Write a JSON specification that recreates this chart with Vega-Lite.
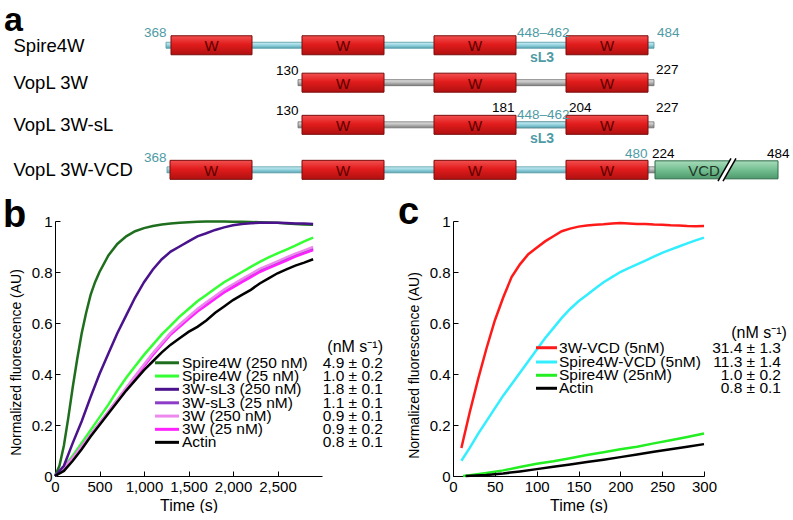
{
  "$schema": "https://vega.github.io/schema/vega-lite/v6.json",
  "padding": {"left": 3, "top": 0, "right": 0, "bottom": 0},
  "bounds": "flush",
  "spacing": 31,
  "config": {
    "view": {"stroke": null},
    "font": "Liberation Sans",
    "axis": {"grid": false, "domainColor": "black", "domainWidth": 1, "tickColor": "black", "tickSize": -5, "labelPadding": 8, "labelFontSize": 15, "labelColor": "black", "labelFont": "Liberation Sans", "titleFont": "Liberation Sans", "titleFontWeight": "normal", "titleColor": "black", "labelFlush": false},
    "axisX": {"titleFontSize": 16, "titlePadding": 3},
    "axisY": {"titleFontSize": 14, "titlePadding": 8}
  },
  "datasets": {
    "dtubes": [
      {"k":"sp","x":166,"x2":654,"y":42.5},
      {"k":"vl","x":298,"x2":654,"y":82},
      {"k":"vl","x":298,"x2":654,"y":126.5},
      {"k":"sp","x":516,"x2":566,"y":126.5},
      {"k":"sp","x":167,"x2":649,"y":174},
      {"k":"vl","x":648,"x2":656,"y":174}
    ],
    "dboxes": [
      {"k":"W","x":171,"x2":252,"y":42.5},{"k":"W","x":302,"x2":384,"y":42.5},{"k":"W","x":434,"x2":516,"y":42.5},{"k":"W","x":566,"x2":648,"y":42.5},
      {"k":"W","x":302,"x2":384,"y":82},{"k":"W","x":434,"x2":516,"y":82},{"k":"W","x":566,"x2":648,"y":82},
      {"k":"W","x":302,"x2":384,"y":126.5},{"k":"W","x":434,"x2":516,"y":126.5},{"k":"W","x":566,"x2":648,"y":126.5},
      {"k":"W","x":170,"x2":252,"y":174},{"k":"W","x":302,"x2":384,"y":174},{"k":"W","x":434,"x2":516,"y":174},{"k":"W","x":566,"x2":648,"y":174},
      {"k":"VCD","x":655,"x2":778,"y":174}
    ],
    "dboxlab": [
      {"k":"W","x":211.5,"y":42.5,"text":"W"},{"k":"W","x":343,"y":42.5,"text":"W"},{"k":"W","x":475,"y":42.5,"text":"W"},{"k":"W","x":607,"y":42.5,"text":"W"},
      {"k":"W","x":343,"y":82,"text":"W"},{"k":"W","x":475,"y":82,"text":"W"},{"k":"W","x":607,"y":82,"text":"W"},
      {"k":"W","x":343,"y":126.5,"text":"W"},{"k":"W","x":475,"y":126.5,"text":"W"},{"k":"W","x":607,"y":126.5,"text":"W"},
      {"k":"W","x":211,"y":174,"text":"W"},{"k":"W","x":343,"y":174,"text":"W"},{"k":"W","x":475,"y":174,"text":"W"},{"k":"W","x":607,"y":174,"text":"W"},
      {"k":"VCD","x":704,"y":174,"text":"VCD"}
    ],
    "dnums": [
      {"k":"teal","x":144,"y":30,"text":"368"},{"k":"teal","x":517,"y":30,"text":"448–462"},{"k":"teal","x":657,"y":30,"text":"484"},
      {"k":"black","x":276,"y":70,"text":"130"},{"k":"black","x":656,"y":69,"text":"227"},
      {"k":"black","x":276,"y":112,"text":"130"},{"k":"black","x":492,"y":109,"text":"181"},{"k":"teal","x":517,"y":116,"text":"448–462"},{"k":"black","x":569,"y":109,"text":"204"},{"k":"black","x":656,"y":109,"text":"227"},
      {"k":"teal","x":144,"y":161,"text":"368"},{"k":"teal","x":625,"y":157,"text":"480"},{"k":"black","x":652,"y":157,"text":"224"},{"k":"black","x":767,"y":157,"text":"484"}
    ],
    "dsl3": [{"x":530,"y":56,"text":"sL3"},{"x":530,"y":141,"text":"sL3"}],
    "drows": [{"x":13.5,"y":43,"text":"Spire4W"},{"x":13.5,"y":82,"text":"VopL 3W"},{"x":13.5,"y":126.5,"text":"VopL 3W-sL"},{"x":13.5,"y":174,"text":"VopL 3W-VCD"}],
    "dbreak": [{"k":"fill","x":720.5,"y":186,"x2":733.5,"y2":162},{"k":"edge","x":718,"y":186,"x2":731,"y2":162},{"k":"edge","x":723,"y":186,"x2":736,"y2":162}],
    "dletA": [{"x":4,"y":27,"text":"a"}],
    "bcurves": [
      {"s":"Spire4W (250 nM)","t":0,"v":0},{"s":"Spire4W (250 nM)","t":50,"v":0.04},{"s":"Spire4W (250 nM)","t":100,"v":0.12},{"s":"Spire4W (250 nM)","t":150,"v":0.23},{"s":"Spire4W (250 nM)","t":200,"v":0.35},{"s":"Spire4W (250 nM)","t":250,"v":0.46},{"s":"Spire4W (250 nM)","t":300,"v":0.56},{"s":"Spire4W (250 nM)","t":350,"v":0.64},{"s":"Spire4W (250 nM)","t":400,"v":0.71},{"s":"Spire4W (250 nM)","t":450,"v":0.76},{"s":"Spire4W (250 nM)","t":500,"v":0.8},{"s":"Spire4W (250 nM)","t":600,"v":0.865},{"s":"Spire4W (250 nM)","t":700,"v":0.91},{"s":"Spire4W (250 nM)","t":800,"v":0.94},{"s":"Spire4W (250 nM)","t":900,"v":0.96},{"s":"Spire4W (250 nM)","t":1000,"v":0.972},{"s":"Spire4W (250 nM)","t":1100,"v":0.98},{"s":"Spire4W (250 nM)","t":1200,"v":0.986},{"s":"Spire4W (250 nM)","t":1300,"v":0.99},{"s":"Spire4W (250 nM)","t":1400,"v":0.993},{"s":"Spire4W (250 nM)","t":1500,"v":0.995},{"s":"Spire4W (250 nM)","t":1600,"v":0.997},{"s":"Spire4W (250 nM)","t":1700,"v":0.998},{"s":"Spire4W (250 nM)","t":1800,"v":0.998},{"s":"Spire4W (250 nM)","t":1900,"v":0.998},{"s":"Spire4W (250 nM)","t":2000,"v":0.997},{"s":"Spire4W (250 nM)","t":2100,"v":0.997},{"s":"Spire4W (250 nM)","t":2200,"v":0.996},{"s":"Spire4W (250 nM)","t":2300,"v":0.995},{"s":"Spire4W (250 nM)","t":2400,"v":0.994},{"s":"Spire4W (250 nM)","t":2500,"v":0.993},{"s":"Spire4W (250 nM)","t":2600,"v":0.99},{"s":"Spire4W (250 nM)","t":2700,"v":0.988},{"s":"Spire4W (250 nM)","t":2800,"v":0.986},{"s":"Spire4W (250 nM)","t":2900,"v":0.985},
      {"s":"Spire4W (25 nM)","t":0,"v":0},{"s":"Spire4W (25 nM)","t":100,"v":0.035},{"s":"Spire4W (25 nM)","t":200,"v":0.08},{"s":"Spire4W (25 nM)","t":300,"v":0.13},{"s":"Spire4W (25 nM)","t":400,"v":0.18},{"s":"Spire4W (25 nM)","t":500,"v":0.23},{"s":"Spire4W (25 nM)","t":600,"v":0.28},{"s":"Spire4W (25 nM)","t":700,"v":0.335},{"s":"Spire4W (25 nM)","t":800,"v":0.385},{"s":"Spire4W (25 nM)","t":900,"v":0.43},{"s":"Spire4W (25 nM)","t":1000,"v":0.475},{"s":"Spire4W (25 nM)","t":1100,"v":0.515},{"s":"Spire4W (25 nM)","t":1200,"v":0.555},{"s":"Spire4W (25 nM)","t":1300,"v":0.59},{"s":"Spire4W (25 nM)","t":1400,"v":0.625},{"s":"Spire4W (25 nM)","t":1500,"v":0.655},{"s":"Spire4W (25 nM)","t":1600,"v":0.685},{"s":"Spire4W (25 nM)","t":1700,"v":0.71},{"s":"Spire4W (25 nM)","t":1800,"v":0.735},{"s":"Spire4W (25 nM)","t":1900,"v":0.76},{"s":"Spire4W (25 nM)","t":2000,"v":0.78},{"s":"Spire4W (25 nM)","t":2100,"v":0.8},{"s":"Spire4W (25 nM)","t":2200,"v":0.82},{"s":"Spire4W (25 nM)","t":2300,"v":0.84},{"s":"Spire4W (25 nM)","t":2400,"v":0.857},{"s":"Spire4W (25 nM)","t":2500,"v":0.873},{"s":"Spire4W (25 nM)","t":2600,"v":0.888},{"s":"Spire4W (25 nM)","t":2700,"v":0.903},{"s":"Spire4W (25 nM)","t":2800,"v":0.92},{"s":"Spire4W (25 nM)","t":2900,"v":0.935},
      {"s":"3W-sL3 (25 nM)","t":0,"v":0},{"s":"3W-sL3 (25 nM)","t":100,"v":0.03},{"s":"3W-sL3 (25 nM)","t":200,"v":0.071},{"s":"3W-sL3 (25 nM)","t":300,"v":0.117},{"s":"3W-sL3 (25 nM)","t":400,"v":0.162},{"s":"3W-sL3 (25 nM)","t":500,"v":0.207},{"s":"3W-sL3 (25 nM)","t":600,"v":0.252},{"s":"3W-sL3 (25 nM)","t":700,"v":0.298},{"s":"3W-sL3 (25 nM)","t":800,"v":0.343},{"s":"3W-sL3 (25 nM)","t":900,"v":0.389},{"s":"3W-sL3 (25 nM)","t":1000,"v":0.434},{"s":"3W-sL3 (25 nM)","t":1100,"v":0.479},{"s":"3W-sL3 (25 nM)","t":1200,"v":0.519},{"s":"3W-sL3 (25 nM)","t":1300,"v":0.559},{"s":"3W-sL3 (25 nM)","t":1400,"v":0.59},{"s":"3W-sL3 (25 nM)","t":1500,"v":0.62},{"s":"3W-sL3 (25 nM)","t":1600,"v":0.65},{"s":"3W-sL3 (25 nM)","t":1700,"v":0.676},{"s":"3W-sL3 (25 nM)","t":1800,"v":0.7},{"s":"3W-sL3 (25 nM)","t":1900,"v":0.726},{"s":"3W-sL3 (25 nM)","t":2000,"v":0.746},{"s":"3W-sL3 (25 nM)","t":2100,"v":0.766},{"s":"3W-sL3 (25 nM)","t":2200,"v":0.786},{"s":"3W-sL3 (25 nM)","t":2300,"v":0.806},{"s":"3W-sL3 (25 nM)","t":2400,"v":0.821},{"s":"3W-sL3 (25 nM)","t":2500,"v":0.836},{"s":"3W-sL3 (25 nM)","t":2600,"v":0.851},{"s":"3W-sL3 (25 nM)","t":2700,"v":0.866},{"s":"3W-sL3 (25 nM)","t":2800,"v":0.879},{"s":"3W-sL3 (25 nM)","t":2900,"v":0.892},
      {"s":"3W (25 nM)","t":0,"v":0},{"s":"3W (25 nM)","t":100,"v":0.03},{"s":"3W (25 nM)","t":200,"v":0.07},{"s":"3W (25 nM)","t":300,"v":0.115},{"s":"3W (25 nM)","t":400,"v":0.16},{"s":"3W (25 nM)","t":500,"v":0.205},{"s":"3W (25 nM)","t":600,"v":0.25},{"s":"3W (25 nM)","t":700,"v":0.295},{"s":"3W (25 nM)","t":800,"v":0.34},{"s":"3W (25 nM)","t":900,"v":0.385},{"s":"3W (25 nM)","t":1000,"v":0.43},{"s":"3W (25 nM)","t":1100,"v":0.475},{"s":"3W (25 nM)","t":1200,"v":0.515},{"s":"3W (25 nM)","t":1300,"v":0.555},{"s":"3W (25 nM)","t":1400,"v":0.585},{"s":"3W (25 nM)","t":1500,"v":0.615},{"s":"3W (25 nM)","t":1600,"v":0.645},{"s":"3W (25 nM)","t":1700,"v":0.67},{"s":"3W (25 nM)","t":1800,"v":0.695},{"s":"3W (25 nM)","t":1900,"v":0.72},{"s":"3W (25 nM)","t":2000,"v":0.74},{"s":"3W (25 nM)","t":2100,"v":0.76},{"s":"3W (25 nM)","t":2200,"v":0.78},{"s":"3W (25 nM)","t":2300,"v":0.8},{"s":"3W (25 nM)","t":2400,"v":0.815},{"s":"3W (25 nM)","t":2500,"v":0.83},{"s":"3W (25 nM)","t":2600,"v":0.845},{"s":"3W (25 nM)","t":2700,"v":0.86},{"s":"3W (25 nM)","t":2800,"v":0.873},{"s":"3W (25 nM)","t":2900,"v":0.886},
      {"s":"3W (250 nM)","t":0,"v":0},{"s":"3W (250 nM)","t":100,"v":0.03},{"s":"3W (250 nM)","t":200,"v":0.072},{"s":"3W (250 nM)","t":300,"v":0.118},{"s":"3W (250 nM)","t":400,"v":0.163},{"s":"3W (250 nM)","t":500,"v":0.208},{"s":"3W (250 nM)","t":600,"v":0.254},{"s":"3W (250 nM)","t":700,"v":0.3},{"s":"3W (250 nM)","t":800,"v":0.346},{"s":"3W (250 nM)","t":900,"v":0.392},{"s":"3W (250 nM)","t":1000,"v":0.437},{"s":"3W (250 nM)","t":1100,"v":0.482},{"s":"3W (250 nM)","t":1200,"v":0.522},{"s":"3W (250 nM)","t":1300,"v":0.562},{"s":"3W (250 nM)","t":1400,"v":0.594},{"s":"3W (250 nM)","t":1500,"v":0.625},{"s":"3W (250 nM)","t":1600,"v":0.655},{"s":"3W (250 nM)","t":1700,"v":0.681},{"s":"3W (250 nM)","t":1800,"v":0.706},{"s":"3W (250 nM)","t":1900,"v":0.731},{"s":"3W (250 nM)","t":2000,"v":0.752},{"s":"3W (250 nM)","t":2100,"v":0.772},{"s":"3W (250 nM)","t":2200,"v":0.792},{"s":"3W (250 nM)","t":2300,"v":0.812},{"s":"3W (250 nM)","t":2400,"v":0.827},{"s":"3W (250 nM)","t":2500,"v":0.842},{"s":"3W (250 nM)","t":2600,"v":0.857},{"s":"3W (250 nM)","t":2700,"v":0.872},{"s":"3W (250 nM)","t":2800,"v":0.885},{"s":"3W (250 nM)","t":2900,"v":0.898},
      {"s":"3W-sL3 (250 nM)","t":0,"v":0},{"s":"3W-sL3 (250 nM)","t":100,"v":0.04},{"s":"3W-sL3 (250 nM)","t":200,"v":0.13},{"s":"3W-sL3 (250 nM)","t":300,"v":0.215},{"s":"3W-sL3 (250 nM)","t":400,"v":0.31},{"s":"3W-sL3 (250 nM)","t":500,"v":0.4},{"s":"3W-sL3 (250 nM)","t":600,"v":0.48},{"s":"3W-sL3 (250 nM)","t":700,"v":0.56},{"s":"3W-sL3 (250 nM)","t":800,"v":0.63},{"s":"3W-sL3 (250 nM)","t":900,"v":0.7},{"s":"3W-sL3 (250 nM)","t":1000,"v":0.76},{"s":"3W-sL3 (250 nM)","t":1100,"v":0.81},{"s":"3W-sL3 (250 nM)","t":1200,"v":0.85},{"s":"3W-sL3 (250 nM)","t":1300,"v":0.88},{"s":"3W-sL3 (250 nM)","t":1400,"v":0.9},{"s":"3W-sL3 (250 nM)","t":1500,"v":0.92},{"s":"3W-sL3 (250 nM)","t":1600,"v":0.94},{"s":"3W-sL3 (250 nM)","t":1700,"v":0.952},{"s":"3W-sL3 (250 nM)","t":1800,"v":0.965},{"s":"3W-sL3 (250 nM)","t":1900,"v":0.975},{"s":"3W-sL3 (250 nM)","t":2000,"v":0.983},{"s":"3W-sL3 (250 nM)","t":2100,"v":0.988},{"s":"3W-sL3 (250 nM)","t":2200,"v":0.991},{"s":"3W-sL3 (250 nM)","t":2300,"v":0.993},{"s":"3W-sL3 (250 nM)","t":2400,"v":0.993},{"s":"3W-sL3 (250 nM)","t":2500,"v":0.993},{"s":"3W-sL3 (250 nM)","t":2600,"v":0.992},{"s":"3W-sL3 (250 nM)","t":2700,"v":0.99},{"s":"3W-sL3 (250 nM)","t":2800,"v":0.99},{"s":"3W-sL3 (250 nM)","t":2900,"v":0.988},
      {"s":"Actin","t":0,"v":0},{"s":"Actin","t":100,"v":0.02},{"s":"Actin","t":200,"v":0.06},{"s":"Actin","t":300,"v":0.105},{"s":"Actin","t":400,"v":0.155},{"s":"Actin","t":500,"v":0.2},{"s":"Actin","t":600,"v":0.245},{"s":"Actin","t":700,"v":0.29},{"s":"Actin","t":800,"v":0.335},{"s":"Actin","t":900,"v":0.375},{"s":"Actin","t":1000,"v":0.415},{"s":"Actin","t":1100,"v":0.45},{"s":"Actin","t":1200,"v":0.485},{"s":"Actin","t":1300,"v":0.515},{"s":"Actin","t":1400,"v":0.54},{"s":"Actin","t":1500,"v":0.565},{"s":"Actin","t":1600,"v":0.585},{"s":"Actin","t":1700,"v":0.61},{"s":"Actin","t":1800,"v":0.64},{"s":"Actin","t":1900,"v":0.665},{"s":"Actin","t":2000,"v":0.69},{"s":"Actin","t":2100,"v":0.71},{"s":"Actin","t":2200,"v":0.73},{"s":"Actin","t":2300,"v":0.755},{"s":"Actin","t":2400,"v":0.775},{"s":"Actin","t":2500,"v":0.795},{"s":"Actin","t":2600,"v":0.81},{"s":"Actin","t":2700,"v":0.825},{"s":"Actin","t":2800,"v":0.837},{"s":"Actin","t":2900,"v":0.85}
    ],
    "bleg": [
      {"s":"Spire4W (250 nM)","x1":1124,"x2":1393,"xt":1427,"xr":3685,"y":0.444,"rate":"4.9 ± 0.2"},
      {"s":"Spire4W (25 nM)","x1":1124,"x2":1393,"xt":1427,"xr":3685,"y":0.392,"rate":"1.0 ± 0.2"},
      {"s":"3W-sL3 (250 nM)","x1":1124,"x2":1393,"xt":1427,"xr":3685,"y":0.34,"rate":"1.8 ± 0.1"},
      {"s":"3W-sL3 (25 nM)","x1":1124,"x2":1393,"xt":1427,"xr":3685,"y":0.287,"rate":"1.1 ± 0.1"},
      {"s":"3W (250 nM)","x1":1124,"x2":1393,"xt":1427,"xr":3685,"y":0.235,"rate":"0.9 ± 0.1"},
      {"s":"3W (25 nM)","x1":1124,"x2":1393,"xt":1427,"xr":3685,"y":0.183,"rate":"0.9 ± 0.2"},
      {"s":"Actin","x1":1124,"x2":1393,"xt":1427,"xr":3685,"y":0.132,"rate":"0.8 ± 0.1"}
    ],
    "bhead": [{"x":3685,"y":0.507,"text":"(nM s⁻¹)"}],
    "bletter": [{"x":-584,"y":0.976,"text":"b"}],
    "ccurves": [
      {"s":"Spire4W (25nM)","t":12,"v":0},{"s":"Spire4W (25nM)","t":20,"v":0.003},{"s":"Spire4W (25nM)","t":40,"v":0.012},{"s":"Spire4W (25nM)","t":60,"v":0.022},{"s":"Spire4W (25nM)","t":80,"v":0.035},{"s":"Spire4W (25nM)","t":100,"v":0.048},{"s":"Spire4W (25nM)","t":120,"v":0.058},{"s":"Spire4W (25nM)","t":140,"v":0.07},{"s":"Spire4W (25nM)","t":160,"v":0.082},{"s":"Spire4W (25nM)","t":180,"v":0.093},{"s":"Spire4W (25nM)","t":200,"v":0.105},{"s":"Spire4W (25nM)","t":220,"v":0.115},{"s":"Spire4W (25nM)","t":240,"v":0.128},{"s":"Spire4W (25nM)","t":260,"v":0.14},{"s":"Spire4W (25nM)","t":280,"v":0.153},{"s":"Spire4W (25nM)","t":300,"v":0.167},
      {"s":"Actin","t":15,"v":0},{"s":"Actin","t":40,"v":0.004},{"s":"Actin","t":60,"v":0.01},{"s":"Actin","t":80,"v":0.018},{"s":"Actin","t":100,"v":0.027},{"s":"Actin","t":120,"v":0.036},{"s":"Actin","t":140,"v":0.045},{"s":"Actin","t":160,"v":0.055},{"s":"Actin","t":180,"v":0.064},{"s":"Actin","t":200,"v":0.074},{"s":"Actin","t":220,"v":0.084},{"s":"Actin","t":240,"v":0.095},{"s":"Actin","t":260,"v":0.105},{"s":"Actin","t":280,"v":0.115},{"s":"Actin","t":300,"v":0.125},
      {"s":"Spire4W-VCD (5nM)","t":10,"v":0.06},{"s":"Spire4W-VCD (5nM)","t":20,"v":0.11},{"s":"Spire4W-VCD (5nM)","t":30,"v":0.165},{"s":"Spire4W-VCD (5nM)","t":40,"v":0.215},{"s":"Spire4W-VCD (5nM)","t":50,"v":0.265},{"s":"Spire4W-VCD (5nM)","t":60,"v":0.315},{"s":"Spire4W-VCD (5nM)","t":70,"v":0.36},{"s":"Spire4W-VCD (5nM)","t":80,"v":0.405},{"s":"Spire4W-VCD (5nM)","t":90,"v":0.45},{"s":"Spire4W-VCD (5nM)","t":100,"v":0.495},{"s":"Spire4W-VCD (5nM)","t":110,"v":0.54},{"s":"Spire4W-VCD (5nM)","t":120,"v":0.58},{"s":"Spire4W-VCD (5nM)","t":130,"v":0.62},{"s":"Spire4W-VCD (5nM)","t":140,"v":0.655},{"s":"Spire4W-VCD (5nM)","t":150,"v":0.685},{"s":"Spire4W-VCD (5nM)","t":160,"v":0.71},{"s":"Spire4W-VCD (5nM)","t":170,"v":0.735},{"s":"Spire4W-VCD (5nM)","t":180,"v":0.76},{"s":"Spire4W-VCD (5nM)","t":190,"v":0.78},{"s":"Spire4W-VCD (5nM)","t":200,"v":0.8},{"s":"Spire4W-VCD (5nM)","t":210,"v":0.815},{"s":"Spire4W-VCD (5nM)","t":220,"v":0.83},{"s":"Spire4W-VCD (5nM)","t":230,"v":0.845},{"s":"Spire4W-VCD (5nM)","t":240,"v":0.86},{"s":"Spire4W-VCD (5nM)","t":250,"v":0.875},{"s":"Spire4W-VCD (5nM)","t":260,"v":0.888},{"s":"Spire4W-VCD (5nM)","t":270,"v":0.9},{"s":"Spire4W-VCD (5nM)","t":280,"v":0.912},{"s":"Spire4W-VCD (5nM)","t":290,"v":0.924},{"s":"Spire4W-VCD (5nM)","t":300,"v":0.935},
      {"s":"3W-VCD (5nM)","t":10,"v":0.11},{"s":"3W-VCD (5nM)","t":20,"v":0.25},{"s":"3W-VCD (5nM)","t":30,"v":0.38},{"s":"3W-VCD (5nM)","t":40,"v":0.5},{"s":"3W-VCD (5nM)","t":50,"v":0.61},{"s":"3W-VCD (5nM)","t":60,"v":0.7},{"s":"3W-VCD (5nM)","t":70,"v":0.78},{"s":"3W-VCD (5nM)","t":80,"v":0.83},{"s":"3W-VCD (5nM)","t":90,"v":0.87},{"s":"3W-VCD (5nM)","t":100,"v":0.895},{"s":"3W-VCD (5nM)","t":110,"v":0.92},{"s":"3W-VCD (5nM)","t":120,"v":0.94},{"s":"3W-VCD (5nM)","t":130,"v":0.96},{"s":"3W-VCD (5nM)","t":140,"v":0.97},{"s":"3W-VCD (5nM)","t":150,"v":0.978},{"s":"3W-VCD (5nM)","t":160,"v":0.982},{"s":"3W-VCD (5nM)","t":170,"v":0.985},{"s":"3W-VCD (5nM)","t":180,"v":0.987},{"s":"3W-VCD (5nM)","t":190,"v":0.99},{"s":"3W-VCD (5nM)","t":200,"v":0.992},{"s":"3W-VCD (5nM)","t":210,"v":0.99},{"s":"3W-VCD (5nM)","t":220,"v":0.988},{"s":"3W-VCD (5nM)","t":230,"v":0.988},{"s":"3W-VCD (5nM)","t":240,"v":0.986},{"s":"3W-VCD (5nM)","t":250,"v":0.985},{"s":"3W-VCD (5nM)","t":260,"v":0.983},{"s":"3W-VCD (5nM)","t":270,"v":0.982},{"s":"3W-VCD (5nM)","t":280,"v":0.98},{"s":"3W-VCD (5nM)","t":290,"v":0.979},{"s":"3W-VCD (5nM)","t":300,"v":0.98}
    ],
    "cleg": [
      {"s":"3W-VCD (5nM)","x1":99.2,"x2":124.3,"xt":126.7,"xr":392,"y":0.503,"rate":"31.4 ± 1.3"},
      {"s":"Spire4W-VCD (5nM)","x1":99.2,"x2":124.3,"xt":126.7,"xr":392,"y":0.447,"rate":"11.3 ± 1.4"},
      {"s":"Spire4W (25nM)","x1":99.2,"x2":124.3,"xt":126.7,"xr":392,"y":0.395,"rate":"1.0 ± 0.2"},
      {"s":"Actin","x1":99.2,"x2":124.3,"xt":126.7,"xr":392,"y":0.344,"rate":"0.8 ± 0.1"}
    ],
    "chead": [{"x":399,"y":0.562,"text":"(nM s⁻¹)"}],
    "cletter": [{"x":-65.7,"y":0.988,"text":"c"}]
  },
  "vconcat": [
    {
      "width": 738,
      "height": 190,
      "encoding": {
        "x": {"field": "x", "type": "quantitative", "scale": {"domain": [55, 793], "nice": false, "zero": false}, "axis": null},
        "y": {"field": "y", "type": "quantitative", "scale": {"domain": [0, 190], "reverse": true, "nice": false, "zero": false}, "axis": null}
      },
      "layer": [
        {"data": {"name": "dtubes"}, "transform": [{"filter": "datum.k == 'vl'"}],
         "mark": {"type": "bar", "orient": "horizontal", "size": 6, "stroke": "#6e6e6e", "strokeWidth": 0.8,
                  "fill": {"gradient": "linear", "x1": 0, "y1": 0, "x2": 0, "y2": 1, "stops": [{"offset": 0, "color": "#e4e4e4"}, {"offset": 0.5, "color": "#b8b8b8"}, {"offset": 1, "color": "#7a7a7a"}]}},
         "encoding": {"x2": {"field": "x2"}}},
        {"data": {"name": "dtubes"}, "transform": [{"filter": "datum.k == 'sp'"}],
         "mark": {"type": "bar", "orient": "horizontal", "size": 6, "stroke": "#4f97a3", "strokeWidth": 0.8,
                  "fill": {"gradient": "linear", "x1": 0, "y1": 0, "x2": 0, "y2": 1, "stops": [{"offset": 0, "color": "#d2f1f6"}, {"offset": 0.5, "color": "#92d2de"}, {"offset": 1, "color": "#5aa3b0"}]}},
         "encoding": {"x2": {"field": "x2"}}},
        {"data": {"name": "dboxes"}, "transform": [{"filter": "datum.k == 'W'"}],
         "mark": {"type": "bar", "orient": "horizontal", "size": 19, "stroke": "#7a0c0c", "strokeWidth": 1,
                  "fill": {"gradient": "linear", "x1": 0, "y1": 0, "x2": 0, "y2": 1, "stops": [{"offset": 0, "color": "#f25050"}, {"offset": 0.45, "color": "#e21c1c"}, {"offset": 1, "color": "#b01010"}]}},
         "encoding": {"x2": {"field": "x2"}}},
        {"data": {"name": "dboxes"}, "transform": [{"filter": "datum.k == 'VCD'"}],
         "mark": {"type": "bar", "orient": "horizontal", "size": 18, "stroke": "#2f6a48", "strokeWidth": 1,
                  "fill": {"gradient": "linear", "x1": 0, "y1": 0, "x2": 0, "y2": 1, "stops": [{"offset": 0, "color": "#a8dcbc"}, {"offset": 0.5, "color": "#74bf91"}, {"offset": 1, "color": "#4e9a6c"}]}},
         "encoding": {"x2": {"field": "x2"}}},
        {"data": {"name": "dboxlab"}, "transform": [{"filter": "datum.k == 'W'"}],
         "mark": {"type": "text", "align": "center", "baseline": "middle", "fontSize": 15, "color": "#5a0000", "dy": 1},
         "encoding": {"text": {"field": "text"}}},
        {"data": {"name": "dboxlab"}, "transform": [{"filter": "datum.k == 'VCD'"}],
         "mark": {"type": "text", "align": "center", "baseline": "middle", "fontSize": 15, "color": "#1f3527", "dy": 1},
         "encoding": {"text": {"field": "text"}}},
        {"data": {"name": "dbreak"}, "transform": [{"filter": "datum.k == 'fill'"}],
         "mark": {"type": "rule", "color": "#ffffff", "strokeWidth": 5},
         "encoding": {"x2": {"field": "x2"}, "y2": {"field": "y2"}}},
        {"data": {"name": "dbreak"}, "transform": [{"filter": "datum.k == 'edge'"}],
         "mark": {"type": "rule", "color": "#000000", "strokeWidth": 1.5},
         "encoding": {"x2": {"field": "x2"}, "y2": {"field": "y2"}}},
        {"data": {"name": "dnums"}, "transform": [{"filter": "datum.k == 'teal'"}],
         "mark": {"type": "text", "align": "left", "baseline": "middle", "fontSize": 13.5, "color": "#4f9ba5"},
         "encoding": {"text": {"field": "text"}}},
        {"data": {"name": "dnums"}, "transform": [{"filter": "datum.k == 'black'"}],
         "mark": {"type": "text", "align": "left", "baseline": "middle", "fontSize": 13.5, "color": "#000000"},
         "encoding": {"text": {"field": "text"}}},
        {"data": {"name": "dsl3"},
         "mark": {"type": "text", "align": "left", "baseline": "middle", "fontSize": 14, "fontWeight": "bold", "color": "#4f9ba5"},
         "encoding": {"text": {"field": "text"}}},
        {"data": {"name": "drows"},
         "mark": {"type": "text", "align": "left", "baseline": "middle", "fontSize": 18.5, "color": "#000000"},
         "encoding": {"text": {"field": "text"}}},
        {"data": {"name": "dletA"},
         "mark": {"type": "text", "align": "left", "baseline": "alphabetic", "fontSize": 34, "fontWeight": "bold", "color": "#000000"},
         "encoding": {"text": {"field": "text"}}}
      ]
    },
    {
      "hconcat": [
        {
          "width": 267,
          "height": 255,
          "layer": [
            {"data": {"name": "bcurves"},
             "mark": {"type": "line", "strokeWidth": 2.5},
             "encoding": {
               "x": {"field": "t", "type": "quantitative", "title": "Time (s)", "scale": {"domain": [0, 3000], "nice": false, "zero": false}, "axis": {"values": [0, 500, 1000, 1500, 2000, 2500]}},
               "y": {"field": "v", "type": "quantitative", "title": "Normalized fluorescence (AU)", "scale": {"domain": [0, 1], "nice": false}, "axis": {"values": [0, 0.2, 0.4, 0.6, 0.8, 1], "format": "~g", "titleY": 141}},
               "color": {"field": "s", "type": "nominal", "legend": null,
                 "scale": {"domain": ["Spire4W (250 nM)", "Spire4W (25 nM)", "3W-sL3 (250 nM)", "3W-sL3 (25 nM)", "3W (250 nM)", "3W (25 nM)", "Actin"],
                           "range": ["#1e6e1e", "#33ff33", "#4a128c", "#8c3cc8", "#ee88ee", "#ff22ff", "#000000"]}}
             }},
            {"data": {"name": "bleg"},
             "mark": {"type": "rule", "strokeWidth": 3},
             "encoding": {
               "x": {"field": "x1", "type": "quantitative", "title": "Time (s)"},
               "x2": {"field": "x2"},
               "y": {"field": "y", "type": "quantitative", "title": "Normalized fluorescence (AU)"},
               "color": {"field": "s", "type": "nominal", "legend": null}
             }},
            {"data": {"name": "bleg"},
             "mark": {"type": "text", "align": "left", "baseline": "middle", "fontSize": 15.5, "color": "#000000"},
             "encoding": {
               "x": {"field": "xt", "type": "quantitative", "title": "Time (s)"},
               "y": {"field": "y", "type": "quantitative", "title": "Normalized fluorescence (AU)"},
               "text": {"field": "s"}
             }},
            {"data": {"name": "bleg"},
             "mark": {"type": "text", "align": "right", "baseline": "middle", "fontSize": 15.5, "color": "#000000"},
             "encoding": {
               "x": {"field": "xr", "type": "quantitative", "title": "Time (s)"},
               "y": {"field": "y", "type": "quantitative", "title": "Normalized fluorescence (AU)"},
               "text": {"field": "rate"}
             }},
            {"data": {"name": "bhead"},
             "mark": {"type": "text", "align": "right", "baseline": "middle", "fontSize": 16, "color": "#000000"},
             "encoding": {
               "x": {"field": "x", "type": "quantitative", "title": "Time (s)"},
               "y": {"field": "y", "type": "quantitative", "title": "Normalized fluorescence (AU)"},
               "text": {"field": "text"}
             }},
            {"data": {"name": "bletter"},
             "mark": {"type": "text", "align": "left", "baseline": "alphabetic", "fontSize": 38, "fontWeight": "bold", "color": "#000000"},
             "encoding": {
               "x": {"field": "x", "type": "quantitative", "title": "Time (s)"},
               "y": {"field": "y", "type": "quantitative", "title": "Normalized fluorescence (AU)"},
               "text": {"field": "text"}
             }}
          ]
        },
        {
          "width": 251,
          "height": 255,
          "layer": [
            {"data": {"name": "ccurves"},
             "mark": {"type": "line", "strokeWidth": 2.5},
             "encoding": {
               "x": {"field": "t", "type": "quantitative", "title": "Time (s)", "scale": {"domain": [0, 300], "nice": false, "zero": false}, "axis": {"values": [0, 50, 100, 150, 200, 250, 300]}},
               "y": {"field": "v", "type": "quantitative", "title": "Normalized fluorescence (AU)", "scale": {"domain": [0, 1], "nice": false}, "axis": {"values": [0, 0.2, 0.4, 0.6, 0.8, 1], "format": "~g", "titleY": 144}},
               "color": {"field": "s", "type": "nominal", "legend": null,
                 "scale": {"domain": ["3W-VCD (5nM)", "Spire4W-VCD (5nM)", "Spire4W (25nM)", "Actin"],
                           "range": ["#ff1a1a", "#33eeff", "#22ee22", "#000000"]}}
             }},
            {"data": {"name": "cleg"},
             "mark": {"type": "rule", "strokeWidth": 3},
             "encoding": {
               "x": {"field": "x1", "type": "quantitative", "title": "Time (s)"},
               "x2": {"field": "x2"},
               "y": {"field": "y", "type": "quantitative", "title": "Normalized fluorescence (AU)"},
               "color": {"field": "s", "type": "nominal", "legend": null}
             }},
            {"data": {"name": "cleg"},
             "mark": {"type": "text", "align": "left", "baseline": "middle", "fontSize": 15.5, "color": "#000000"},
             "encoding": {
               "x": {"field": "xt", "type": "quantitative", "title": "Time (s)"},
               "y": {"field": "y", "type": "quantitative", "title": "Normalized fluorescence (AU)"},
               "text": {"field": "s"}
             }},
            {"data": {"name": "cleg"},
             "mark": {"type": "text", "align": "right", "baseline": "middle", "fontSize": 15.5, "color": "#000000"},
             "encoding": {
               "x": {"field": "xr", "type": "quantitative", "title": "Time (s)"},
               "y": {"field": "y", "type": "quantitative", "title": "Normalized fluorescence (AU)"},
               "text": {"field": "rate"}
             }},
            {"data": {"name": "chead"},
             "mark": {"type": "text", "align": "right", "baseline": "middle", "fontSize": 16, "color": "#000000"},
             "encoding": {
               "x": {"field": "x", "type": "quantitative", "title": "Time (s)"},
               "y": {"field": "y", "type": "quantitative", "title": "Normalized fluorescence (AU)"},
               "text": {"field": "text"}
             }},
            {"data": {"name": "cletter"},
             "mark": {"type": "text", "align": "left", "baseline": "alphabetic", "fontSize": 38, "fontWeight": "bold", "color": "#000000"},
             "encoding": {
               "x": {"field": "x", "type": "quantitative", "title": "Time (s)"},
               "y": {"field": "y", "type": "quantitative", "title": "Normalized fluorescence (AU)"},
               "text": {"field": "text"}
             }}
          ]
        }
      ],
      "spacing": 131,
      "bounds": "flush",
      "resolve": {"scale": {"color": "independent"}}
    }
  ]
}
